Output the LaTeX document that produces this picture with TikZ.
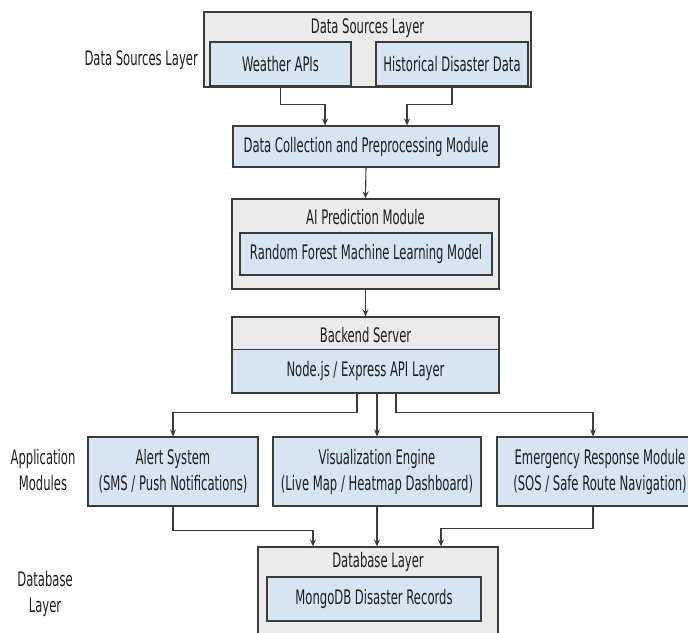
\documentclass[tikz,border=0pt]{standalone}
\usepackage{fontspec}
\setmainfont{DejaVu Sans}[FakeStretch=0.58]
\usetikzlibrary{arrows.meta,calc}
\definecolor{outerfill}{HTML}{EBEBEB}
\definecolor{innerfill}{HTML}{D7E5F2}
\definecolor{edge}{HTML}{3C3C3C}
\definecolor{ink}{HTML}{1E1E1E}
\begin{document}
\begin{tikzpicture}[x=1pt,y=-1pt,
  font=\fontsize{20}{26}\selectfont,
  outerbox/.style={draw=edge, line width=1.2pt, fill=outerfill, inner sep=0pt},
  innerbox/.style={draw=edge, line width=1.1pt, fill=innerfill, inner sep=0pt, text=ink, align=center},
  txt/.style={text=ink, inner sep=0pt, align=center},
  arr/.style={draw=edge, line width=1.1pt, -{Stealth[length=7pt,width=6pt]}}]
\useasboundingbox (0,0) rectangle (688,632);
\clip (0,0) rectangle (688,632);
\fill[white] (0,0) rectangle (688,632);

% side labels
\node[txt, anchor=east] (lblds) at (198,60) {Data Sources Layer};
\node[txt] (lblapp) at (43,470) {Application\\Modules};
\node[txt] (lbldb) at (45,594) {Database\\Layer};

% data sources layer
\node[outerbox, minimum width=327pt, minimum height=75pt] (dsl) at (367.5,49.5) {};
\node[txt] (dslt) at (367.5,28) {Data Sources Layer};
\node[innerbox, minimum width=141pt, minimum height=44pt] (weather) at (280.5,64) {Weather APIs};
\node[innerbox, minimum width=152pt, minimum height=44pt] (hist) at (452,64) {Historical Disaster Data};

% data collection
\node[innerbox, minimum width=266pt, minimum height=41pt] (dc) at (366,146.5) {Data Collection and Preprocessing Module};

% AI prediction
\node[outerbox, minimum width=267pt, minimum height=90pt] (ai) at (365.5,244) {};
\node[txt] (ait) at (365.5,217) {AI Prediction Module};
\node[innerbox, minimum width=252pt, minimum height=42pt] (rf) at (366,254) {Random Forest Machine Learning Model};

% backend
\node[outerbox, minimum width=267pt, minimum height=76pt] (be) at (365.5,355) {};
\node[txt] (bet) at (365.5,335) {Backend Server};
\node[innerbox, minimum width=266pt, minimum height=43pt] (api) at (365.5,371) {Node.js / Express API Layer};

% application modules
\node[innerbox, minimum width=170pt, minimum height=69pt] (alert) at (173,471.5) {Alert System\\(SMS / Push Notifications)};
\node[innerbox, minimum width=208pt, minimum height=69pt] (vis) at (377,471.5) {Visualization Engine\\(Live Map / Heatmap Dashboard)};
\node[innerbox, minimum width=206pt, minimum height=69pt] (emerg) at (600,471.5) {Emergency Response Module\\(SOS / Safe Route Navigation)};

% database
\node[outerbox, minimum width=240pt, minimum height=96pt] (db) at (378,595) {};
\node[txt] (dbt) at (378,562) {Database Layer};
\node[innerbox, minimum width=214pt, minimum height=44pt] (mongo) at (374,599) {MongoDB Disaster Records};

% connectors
\draw[arr] (weather.south) -- ++(0,18) -| ([xshift=-41pt]dc.north);
\draw[arr] (hist.south) -- ++(0,18) -| ([xshift=41pt]dc.north);
\draw[arr] (dc.south) -- (ai.north);
\draw[arr] (ai.south) -- (be.north);
\draw[arr] ([xshift=-8.5pt]api.south) -- ++(0,19) -| (alert.north);
\draw[arr] (api.south -| vis.north) -- (vis.north);
\draw[arr] ([xshift=30.5pt]api.south) -- ++(0,19) -| ([xshift=-7pt]emerg.north);
\draw[arr] (alert.south) -- ++(0,24) -| ([xshift=-65pt]db.north);
\draw[arr] (vis.south) -- (vis.south |- db.north);
\draw[arr] ([xshift=-7pt]emerg.south) -- ++(0,22) -| ([xshift=63pt]db.north);
\end{tikzpicture}
\end{document}
